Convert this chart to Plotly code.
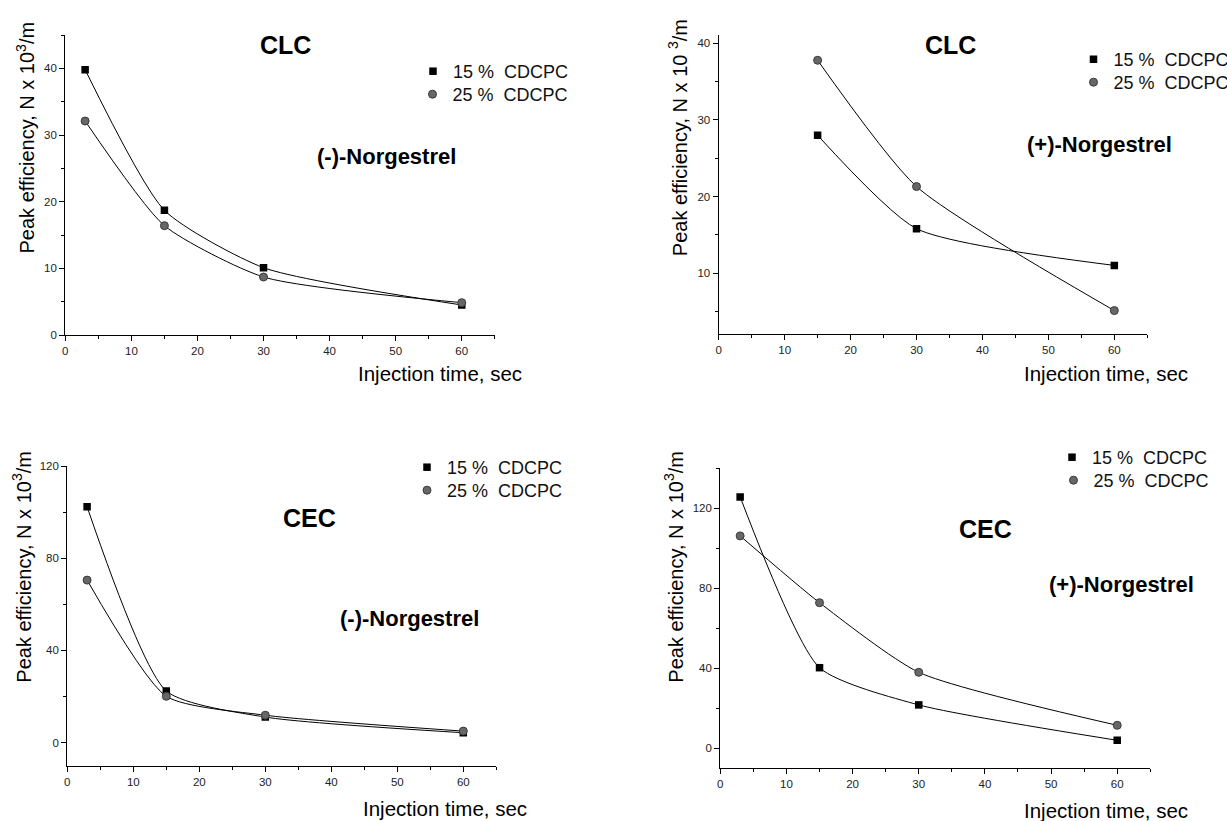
import plotly.graph_objects as go

W, H = 1227, 821

# ---------------- data ----------------
time_a = [3, 15, 30, 60]
time_b = [15, 30, 60]

clc_minus_15 = [39.8, 18.7, 10.1, 4.5]
clc_minus_25 = [32.1, 16.4, 8.7, 4.85]

clc_plus_15 = [28.0, 15.8, 11.0]
clc_plus_25 = [37.8, 21.3, 5.1]

cec_minus_15 = [102.3, 22.4, 11.1, 4.3]
cec_minus_25 = [70.5, 20.1, 11.9, 5.0]

cec_plus_15 = [125.7, 40.3, 21.7, 4.0]
cec_plus_25 = [106.2, 72.8, 38.0, 11.5]

series_names = ["15 %\u00a0 CDCPC", "25 %\u00a0 CDCPC"]
x_ticks = [0, 10, 20, 30, 40, 50, 60]

FONT = "Liberation Sans, Arial, sans-serif"


def px(x):
    return x / W


def py(y):
    return 1 - y / H


# panel geometry in pixels: (left, right, top, bottom), y range, y dtick
panels = [
    dict(box=(65.3, 494.8, 35, 335), yr=[0, 45], dt=10, x=time_a,
         s15=clc_minus_15, s25=clc_minus_25),
    dict(box=(718.7, 1147.3, 35, 334.3), yr=[2, 41.1], dt=10, x=time_b,
         s15=clc_plus_15, s25=clc_plus_25),
    dict(box=(67.3, 496.3, 466, 765.7), yr=[-10, 120], dt=40, x=time_a,
         s15=cec_minus_15, s25=cec_minus_25),
    dict(box=(720.3, 1150.3, 468.3, 768.3), yr=[-10, 140], dt=40, x=time_a,
         s15=cec_plus_15, s25=cec_plus_25),
]

# legend item positions (pixels): (legend left x, symbol centre y) per series
legend_pos = [
    [(413, 71), (412.5, 94)],
    [(1073.5, 59), (1073.5, 82)],
    [(407, 467), (407, 490)],
    [(1052, 457), (1053.5, 480)],
]

fig = go.Figure()
layout = dict(
    width=W, height=H, margin=dict(l=0, r=0, t=0, b=0, autoexpand=False),
    paper_bgcolor="white", plot_bgcolor="white",
    font=dict(family=FONT, color="#111"),
    annotations=[],
)

leg_idx = 0
for i, p in enumerate(panels):
    n = i + 1
    sfx = "" if n == 1 else str(n)
    xa, ya = "x" + sfx, "y" + sfx
    l, r, t, b = p["box"]
    axis_common = dict(
        showline=True, linecolor="black", linewidth=1.3, mirror=False,
        showgrid=False, zeroline=False, ticks="outside", ticklen=5,
        tickwidth=1.1, tickcolor="black",
        tickfont=dict(family=FONT, size=11.5, color="#222"),
    )
    layout["xaxis" + sfx] = dict(
        axis_common, domain=[px(l), px(r)], range=[0, 65], anchor=ya,
        tickvals=x_ticks,
        minor=dict(ticks="outside", ticklen=3, tickvals=[5, 15, 25, 35, 45, 55, 65],
                   tickcolor="black", tickwidth=1.1),
    )
    layout["yaxis" + sfx] = dict(
        axis_common, domain=[py(b), py(t)], range=p["yr"], anchor=xa,
        dtick=p["dt"], tick0=0,
        minor=dict(ticks="outside", ticklen=3, dtick=p["dt"] / 2, tick0=0,
                   tickcolor="black", tickwidth=1.1),
    )
    # lines
    for ys in (p["s15"], p["s25"]):
        fig.add_trace(go.Scatter(
            x=p["x"], y=ys, xaxis=xa, yaxis=ya, mode="lines",
            line=dict(color="black", width=1, shape="spline", smoothing=0.6),
            showlegend=False, hoverinfo="skip"))
    # markers, each in its own legend box
    styles = [
        dict(symbol="square", size=7.5, color="black"),
        dict(symbol="circle", size=8, color="#676767",
             line=dict(color="#3a3a3a", width=1)),
    ]
    for k, (ys, mk) in enumerate(zip((p["s15"], p["s25"]), styles)):
        leg_idx += 1
        leg = "legend" if leg_idx == 1 else "legend" + str(leg_idx)
        fig.add_trace(go.Scatter(
            x=p["x"], y=ys, xaxis=xa, yaxis=ya, mode="markers",
            name=series_names[k], legend=leg, marker=mk))
        lx, sy = legend_pos[i][k]
        layout[leg] = dict(
            x=px(lx), y=py(sy - 18), xanchor="left", yanchor="top",
            bgcolor="rgba(0,0,0,0)", borderwidth=0,
            font=dict(family=FONT, size=18, color="#111"),
            itemwidth=30,
        )

# text labels
labels = [
    ("CLC", 285.8, 45, 25),
    ("(-)-Norgestrel", 386.8, 157, 22),
    ("CLC", 950.3, 45, 25),
    ("(+)-Norgestrel", 1099, 145, 22),
    ("CEC", 309.3, 518, 25),
    ("(-)-Norgestrel", 409, 618, 22),
    ("CEC", 985.3, 529, 25),
    ("(+)-Norgestrel", 1121, 584, 22),
]
for txt, x, y, s in labels:
    layout["annotations"].append(dict(
        text="<b>%s</b>" % txt, x=px(x), y=py(y),
        xref="paper", yref="paper", showarrow=False,
        xanchor="center", yanchor="middle",
        font=dict(family=FONT, size=s, color="black")))

ytitle = "Peak efficiency, N x 10<sup>3</sup>/m"
ytitle2 = "Peak efficiency, N x 10 <sup>3</sup>/m"
ytitles = [(ytitle, 25, 137.5), (ytitle2, 677.7, 137.5),
           (ytitle, 22, 566.7), (ytitle, 674, 566.7)]
for txt, x, y in ytitles:
    layout["annotations"].append(dict(
        text=txt, x=px(x), y=py(y), xref="paper", yref="paper",
        showarrow=False, textangle=-90, xanchor="center", yanchor="middle",
        font=dict(family=FONT, size=20, color="black")))

xtitle = "Injection time, sec"
xtitles = [(440, 373), (1106, 373), (445, 808), (1106, 810)]
for x, y in xtitles:
    layout["annotations"].append(dict(
        text=xtitle, x=px(x), y=py(y), xref="paper", yref="paper",
        showarrow=False, xanchor="center", yanchor="middle",
        font=dict(family=FONT, size=20.5, color="black")))

fig.update_layout(**layout)
fig.write_html("out.html")
